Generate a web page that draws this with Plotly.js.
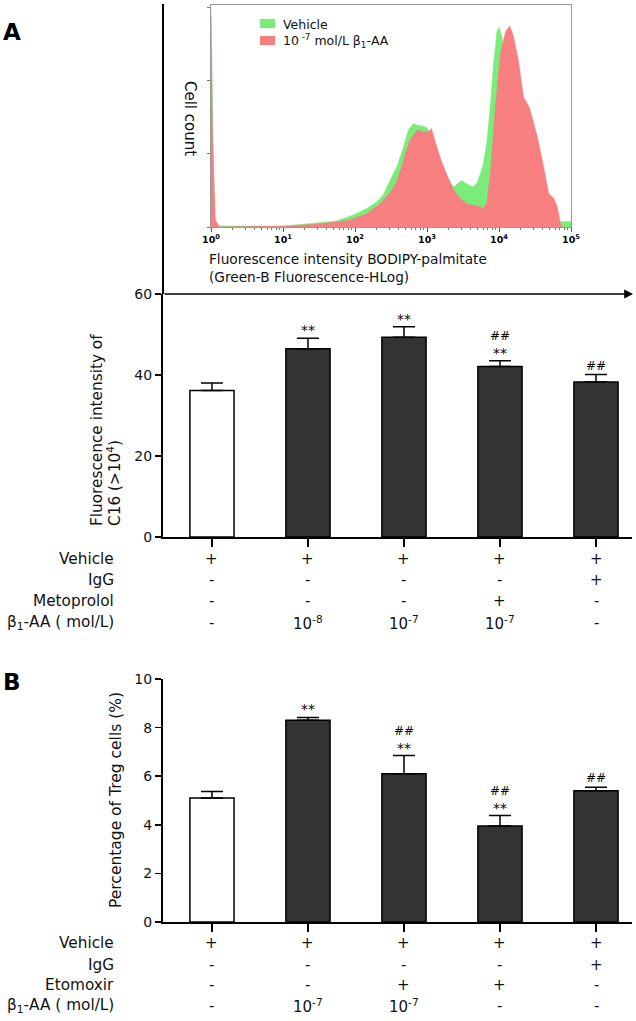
<!DOCTYPE html>
<html>
<head>
<meta charset="utf-8">
<script src="https://cdn.plot.ly/plotly-3.0.1.min.js"></script>
<style>html,body{margin:0;padding:0;background:#fff}#chart{width:636px;height:1021px}</style>
</head>
<body>
<div id="chart"></div>
<script>
// ---------- Histogram (flow cytometry) data ----------
const vehicleIntensity = [1,1.06,1.12,1.26,10,29,55,93,145,200,245,300,380,470,550,645,725,890,980,1230,1510,1860,2340,3020,3550,4370,5010,6030,6760,7590,8320,9330,10000,10960,12300,14130,17780,22390,31620,50120,70790,100000];
const vehicleCount     = [98,45,4,0.5,0.5,1.8,2.7,5.3,8.3,11.3,14.3,20.3,27,36,43.6,46.6,45.9,45.4,45,39,30,22.5,18,21,19.5,18,20,28,38,55,72,88,90,86,70,52,30,17,8,3.5,2.5,2.5];
const aaIntensity = [1,1.05,1.15,1.32,10,29,85,145,220,300,380,470,575,725,890,1050,1150,1290,1510,1860,2340,2880,3550,4370,5500,6030,6760,7590,8910,10470,12300,14130,15850,18620,21880,26300,33880,41690,48980,57540,64570,70790,75860];
const aaCount     = [95,40,3,0,0.3,1.2,3,6,10.2,15,20.3,30,39,43.6,42.9,43,44.4,39,31.6,24,16.5,12.8,10.5,9.8,9.0,8.3,10.5,24,54,78,88,90.5,86,75,58.6,54,41,27,15,13,9,2,0];
const histTickVals = [1,10,100,1000,10000,100000];
const histTickText = ['<b>10<sup>0</sup></b>','<b>10<sup>1</sup></b>','<b>10<sup>2</sup></b>','<b>10<sup>3</sup></b>','<b>10<sup>4</sup></b>','<b>10<sup>5</sup></b>'];
const histLegend = ['Vehicle','10<sup> -7</sup> mol/L β<sub>1</sub>-AA'];

// ---------- Panel A bars ----------
const groupsA = ['Vehicle','β1-AA 1e-8','β1-AA 1e-7','β1-AA 1e-7 + Metoprolol','IgG'];
const valuesA = [36.2,46.5,49.3,42.1,38.3];
const errorsA = [1.8,2.6,2.6,1.4,1.8];
const starsA  = ['','**','**','**',''];
const hashA   = ['','','','##','##'];
const rowLabelsA = ['Vehicle','IgG','Metoprolol','β<sub>1</sub>-AA ( mol/L)'];
const rowVehicleA = ['+','+','+','+','+'];
const rowIgGA     = ['-','-','-','-','+'];
const rowMetoA    = ['-','-','-','+','-'];
const rowAAA      = ['-','10<sup>-8</sup>','10<sup>-7</sup>','10<sup>-7</sup>','-'];
const yTicksA = [0,20,40,60];

// ---------- Panel B bars ----------
const groupsB = ['Vehicle','β1-AA 1e-7','β1-AA 1e-7 + Etomoxir','Etomoxir','IgG'];
const valuesB = [5.1,8.3,6.1,3.95,5.4];
const errorsB = [0.27,0.12,0.75,0.43,0.15];
const starsB  = ['','**','**','**',''];
const hashB   = ['','','##','##','##'];
const rowLabelsB = ['Vehicle','IgG','Etomoxir','β<sub>1</sub>-AA ( mol/L)'];
const rowVehicleB = ['+','+','+','+','+'];
const rowIgGB     = ['-','-','-','-','+'];
const rowEtoB     = ['-','-','+','+','-'];
const rowAAB      = ['-','10<sup>-7</sup>','10<sup>-7</sup>','-','-'];
const yTicksB = [0,2,4,6,8,10];

// ---------- helpers ----------
const W = 636, H = 1021;
const P = x => x / W;
const Q = y => 1 - y / H;
const FONT = 'DejaVu Sans, Arial, sans-serif';
const GREEN = '#7aec7a', RED = '#f77f7f', DARK = '#333333';

// minor ticks for log axis
const minorVals = [];
for (let d = 0; d < 5; d++) for (let m = 2; m <= 9; m++) minorVals.push(m * Math.pow(10, d));

const traces = [
  {type:'scatter', x:vehicleIntensity, y:vehicleCount, xaxis:'x', yaxis:'y', mode:'lines',
   fill:'tozeroy', fillcolor:GREEN, line:{color:GREEN, width:0.5}, hoverinfo:'skip', showlegend:false},
  {type:'scatter', x:aaIntensity, y:aaCount, xaxis:'x', yaxis:'y', mode:'lines',
   fill:'tozeroy', fillcolor:RED, line:{color:RED, width:0.5}, hoverinfo:'skip', showlegend:false},
  {type:'bar', x:groupsA, y:valuesA, xaxis:'x2', yaxis:'y2', width:0.46,
   marker:{color:valuesA.map((v,i)=> i===0 ? '#ffffff' : DARK), line:{color:'#000', width:1.5}},
   error_y:{type:'data', array:errorsA, arrayminus:errorsA.map(()=>0), symmetric:false, color:'#000', thickness:1.5, width:11},
   showlegend:false, hoverinfo:'skip'},
  {type:'bar', x:groupsB, y:valuesB, xaxis:'x3', yaxis:'y3', width:0.46,
   marker:{color:valuesB.map((v,i)=> i===0 ? '#ffffff' : DARK), line:{color:'#000', width:1.5}},
   error_y:{type:'data', array:errorsB, arrayminus:errorsB.map(()=>0), symmetric:false, color:'#000', thickness:1.5, width:11},
   showlegend:false, hoverinfo:'skip'}
];

const annotations = [];
const shapes = [];
function txt(o){ annotations.push(Object.assign({showarrow:false, font:{family:FONT, size:14, color:'#111'}}, o)); }

// Panel letters
txt({text:'<b>A</b>', xref:'paper', yref:'paper', x:P(1), y:Q(32), xanchor:'left', yanchor:'middle', font:{family:FONT, size:23, color:'#000'}});
txt({text:'<b>B</b>', xref:'paper', yref:'paper', x:P(1), y:Q(682), xanchor:'left', yanchor:'middle', font:{family:FONT, size:23, color:'#000'}});

// Histogram labels
txt({text:'Cell count', xref:'paper', yref:'paper', x:P(190), y:Q(118), textangle:90, xanchor:'center', yanchor:'middle', font:{family:FONT, size:15, color:'#111'}});
txt({text:'Fluorescence intensity BODIPY-palmitate', xref:'paper', yref:'paper', x:P(207), y:Q(259), xanchor:'left', yanchor:'middle', font:{family:FONT, size:13.7, color:'#111'}});
txt({text:'(Green-B Fluorescence-HLog)', xref:'paper', yref:'paper', x:P(207), y:Q(277), xanchor:'left', yanchor:'middle', font:{family:FONT, size:13.7, color:'#111'}});
// Histogram legend
shapes.push({type:'rect', xref:'paper', yref:'paper', x0:P(260), x1:P(275), y0:Q(28), y1:Q(19), fillcolor:GREEN, line:{width:0}});
shapes.push({type:'rect', xref:'paper', yref:'paper', x0:P(260), x1:P(275), y0:Q(45), y1:Q(36), fillcolor:RED, line:{width:0}});
txt({text:histLegend[0], xref:'paper', yref:'paper', x:P(281), y:Q(24), xanchor:'left', yanchor:'middle', font:{family:FONT, size:12.5, color:'#111'}});
txt({text:histLegend[1], xref:'paper', yref:'paper', x:P(281), y:Q(41), xanchor:'left', yanchor:'middle', font:{family:FONT, size:12.5, color:'#111'}});

// Long axis line above panel A and arrow
shapes.push({type:'line', xref:'paper', yref:'paper', x0:P(163), x1:P(163), y0:Q(294), y1:Q(4), line:{color:'#000', width:2}});
annotations.push({xref:'paper', yref:'paper', x:P(633), y:Q(294), ax:-(633-163), ay:0, axref:'pixel', ayref:'pixel',
  text:'', showarrow:true, arrowhead:2, arrowsize:1.1, arrowwidth:1.6, arrowcolor:'#000', standoff:0, startstandoff:0});

// Panel A y-title
txt({text:'Fluorescence intensity of', xref:'paper', yref:'paper', x:P(97), y:Q(528), textangle:-90, xanchor:'center', yanchor:'bottom', font:{family:FONT, size:15.3, color:'#111'}});
txt({text:'C16 (>10<sup>4</sup>)', xref:'paper', yref:'paper', x:P(114), y:Q(528), textangle:-90, xanchor:'center', yanchor:'bottom', font:{family:FONT, size:15.3, color:'#111'}});
// Panel B y-title
txt({text:'Percentage of Treg cells (%)', xref:'paper', yref:'paper', x:P(116), y:Q(800), textangle:-90, xanchor:'center', yanchor:'middle', font:{family:FONT, size:15.5, color:'#111'}});

// Significance marks
function sig(stars, hashes, vals, errs, xr, yr){
  vals.forEach((v,i)=>{
    const top = v + errs[i];
    if (stars[i]) {
      txt({text:stars[i], xref:xr, yref:yr, x:i, y:top, xanchor:'center', yanchor:'middle', yshift:8, font:{family:FONT, size:14, color:'#000'}});
      if (hashes[i]) txt({text:hashes[i], xref:xr, yref:yr, x:i, y:top, xanchor:'center', yanchor:'middle', yshift:25, font:{family:FONT, size:12, color:'#000'}});
    } else if (hashes[i]) {
      txt({text:hashes[i], xref:xr, yref:yr, x:i, y:top, xanchor:'center', yanchor:'middle', yshift:9, font:{family:FONT, size:12, color:'#000'}});
    }
  });
}
sig(starsA, hashA, valuesA, errorsA, 'x2', 'y2');
sig(starsB, hashB, valuesB, errorsB, 'x3', 'y3');

// Treatment tables
function table(labels, rows, rowY, xr){
  labels.forEach((lab, r)=>{
    txt({text:lab, xref:'paper', yref:'paper', x:P(116), y:Q(rowY[r]), xanchor:'right', yanchor:'middle', font:{family:FONT, size:15.3, color:'#111'}});
    rows[r].forEach((cell, i)=>{
      txt({text:cell, xref:xr, yref:'paper', x:i, y:Q(rowY[r]), xanchor:'center', yanchor:'middle', font:{family:FONT, size:15, color:'#111'}});
    });
  });
}
table(rowLabelsA, [rowVehicleA,rowIgGA,rowMetoA,rowAAA], [559,580,601,623], 'x2');
table(rowLabelsB, [rowVehicleB,rowIgGB,rowEtoB,rowAAB], [943,965,985,1006], 'x3');

const barX = (anchor) => ({domain:[P(163),P(632)], type:'category', range:[-0.51,4.375], anchor:anchor,
  showticklabels:false, ticks:'outside', ticklen:8, tickwidth:1.5, tickcolor:'#000',
  showline:true, linecolor:'#000', linewidth:2, showgrid:false, zeroline:false, fixedrange:true});
const barY = (anchor, dom, rng, tv) => ({domain:dom, range:rng, tickvals:tv, anchor:anchor,
  ticks:'outside', ticklen:6, tickwidth:1.5, tickcolor:'#000', showline:true, linecolor:'#000', linewidth:2,
  showgrid:false, zeroline:false, tickfont:{family:FONT, size:14, color:'#111'}, fixedrange:true});

const layout = {
  width:W, height:H, margin:{l:0,r:0,t:0,b:0}, paper_bgcolor:'#fff', plot_bgcolor:'rgba(0,0,0,0)',
  font:{family:FONT, size:13, color:'#111'}, showlegend:false, bargap:0,
  xaxis:{domain:[P(211),P(571)], type:'log', range:[0,5], anchor:'y', tickvals:histTickVals, ticktext:histTickText,
    tickfont:{family:FONT, size:9.5, color:'#000'}, ticks:'outside', ticklen:4, tickcolor:'#555',
    showline:true, linecolor:'#999', linewidth:1, mirror:true, showgrid:false, zeroline:false,
    minor:{tickvals:minorVals, ticks:'outside', ticklen:2, tickcolor:'#777', showgrid:false}},
  yaxis:{domain:[Q(227),Q(5)], range:[0,100], anchor:'x', tickvals:[0,33,66,99], showticklabels:false,
    ticks:'outside', ticklen:3, tickcolor:'#777', showline:true, linecolor:'#999', linewidth:1, mirror:true,
    showgrid:false, zeroline:false},
  xaxis2: barX('y2'),
  yaxis2: barY('x2', [Q(537),Q(294)], [0,60], yTicksA),
  xaxis3: barX('y3'),
  yaxis3: barY('x3', [Q(922),Q(679)], [0,10], yTicksB),
  annotations: annotations,
  shapes: shapes
};

Plotly.newPlot('chart', traces, layout, {staticPlot:true, displayModeBar:false});
</script>
</body>
</html>
